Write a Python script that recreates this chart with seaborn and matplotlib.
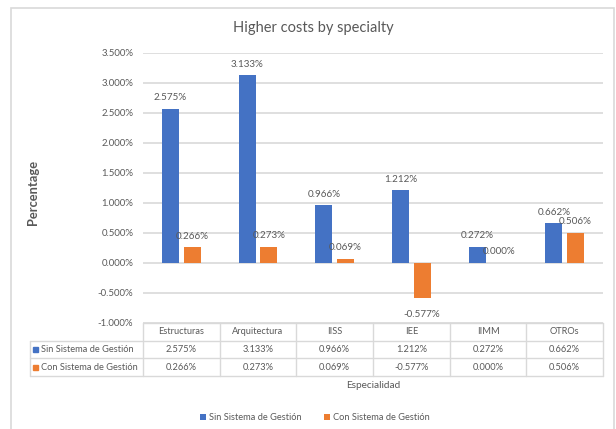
import matplotlib
matplotlib.use("Agg")
import matplotlib.pyplot as plt
from matplotlib.patches import Rectangle
from matplotlib.lines import Line2D
import pandas as pd
import seaborn as sns

# ---- data ----
categories = ["Estructuras", "Arquitectura", "IISS", "IEE", "IIMM", "OTROs"]
series_names = ["Sin Sistema de Gestión", "Con Sistema de Gestión"]
sin_sistema = [2.575, 3.133, 0.966, 1.212, 0.272, 0.662]
con_sistema = [0.266, 0.273, 0.069, -0.577, 0.000, 0.506]
y_ticks = [-1.0, -0.5, 0.0, 0.5, 1.0, 1.5, 2.0, 2.5, 3.0, 3.5]

title = "Higher costs by specialty"
y_label = "Percentage"
x_label = "Especialidad"

BLUE = "#4472C4"
ORANGE = "#ED7D31"
TEXT = "#595959"
GRID = "#D9D9D9"

sns.set_theme(style="white")
plt.rcParams["font.family"] = ["Lato", "DejaVu Sans"]

W, H = 616, 429
fig = plt.figure(figsize=(W / 100, H / 100), dpi=100)


def fx(px):
    return px / W


def fy(py):
    return 1 - py / H


# plot area in pixel coordinates
left, right, top, bottom = 143, 603, 53, 323
ax = fig.add_axes([fx(left), fy(bottom), fx(right) - fx(left), fy(top) - fy(bottom)])

df = pd.DataFrame({
    "Especialidad": categories * 2,
    "Serie": [series_names[0]] * len(categories) + [series_names[1]] * len(categories),
    "Valor": sin_sistema + con_sistema,
})

sns.barplot(data=df, x="Especialidad", y="Valor", hue="Serie", order=categories,
            hue_order=series_names, palette=[BLUE, ORANGE], saturation=1,
            width=0.563, gap=0.21, ax=ax, legend=True, linewidth=0)

ax.set_ylim(y_ticks[0], y_ticks[-1])
ax.set_yticks(y_ticks)
ax.set_yticklabels([f"{v:.3f}%" for v in y_ticks], color=TEXT, fontsize=6.9)
ax.tick_params(axis="y", length=0, pad=7)
ax.set_xticks([])
ax.set_xlabel("")
ax.set_ylabel("")
ax.yaxis.grid(True, color=GRID, linewidth=1.2)
ax.set_axisbelow(True)
for s in ax.spines.values():
    s.set_visible(False)

handles, labels = ax.get_legend_handles_labels()
ax.get_legend().remove()

# value labels on every bar
for container, values in zip(ax.containers, [sin_sistema, con_sistema]):
    for bar, v in zip(container, values):
        xc = bar.get_x() + bar.get_width() / 2
        off = 11 if v >= 0 else -17
        ax.annotate(f"{v:.3f}%", xy=(xc, v), xytext=(0, off), textcoords="offset pixels",
                    ha="center", va="center", fontsize=7.1, color=TEXT)

# title and axis titles
fig.text(fx(313), fy(28), title, ha="center", va="center", fontsize=10.5,
         color=TEXT)
fig.text(fx(33), fy(192), y_label, ha="center", va="center", rotation=90,
         fontsize=9.3, fontweight="bold", color=TEXT)
fig.text(fx(373), fy(386), x_label, ha="center", va="center", fontsize=7.2, color=TEXT)

# data table below the plot
col_w = (right - left) / len(categories)
tbl_left = 30
row_y = [323, 341, 358, 376]
lk = dict(color=GRID, linewidth=1, transform=fig.transFigure)
fig.add_artist(Line2D([fx(left), fx(right)], [fy(row_y[0])] * 2, **lk))
for yy in row_y[1:]:
    fig.add_artist(Line2D([fx(tbl_left), fx(right)], [fy(yy)] * 2, **lk))
fig.add_artist(Line2D([fx(tbl_left)] * 2, [fy(row_y[1]), fy(row_y[3])], **lk))
for i in range(len(categories) + 1):
    xx = left + i * col_w
    fig.add_artist(Line2D([fx(xx)] * 2, [fy(row_y[0]), fy(row_y[3])], **lk))

for i, cat in enumerate(categories):
    xc = left + (i + 0.5) * col_w
    fig.text(fx(xc), fy((row_y[0] + row_y[1]) / 2), cat, ha="center", va="center",
             fontsize=6.7, color=TEXT)
    for r, vals in enumerate([sin_sistema, con_sistema]):
        fig.text(fx(xc), fy((row_y[r + 1] + row_y[r + 2]) / 2), f"{vals[i]:.3f}%",
                 ha="center", va="center", fontsize=6.7, color=TEXT)

for r, (name, col) in enumerate(zip(series_names, [BLUE, ORANGE])):
    yc = (row_y[r + 1] + row_y[r + 2]) / 2
    fig.add_artist(Rectangle((fx(33), fy(yc + 2.5)), 5 / W, 5 / H, color=col,
                             transform=fig.transFigure))
    fig.text(fx(41), fy(yc), name, ha="left", va="center", fontsize=6.7, color=TEXT)

# legend
fig.legend(handles, labels, loc="center", bbox_to_anchor=(fx(315), fy(418)), ncol=2,
           frameon=False, fontsize=6.7, labelcolor=TEXT, handlelength=0.65,
           handleheight=0.65, handletextpad=0.3, columnspacing=2.4)

# chart frame
fig.add_artist(Rectangle((fx(10.5), fy(440)), (614 - 10.5) / W, (440 - 8) / H,
                         fill=False, edgecolor=GRID, linewidth=1.2,
                         transform=fig.transFigure))

fig.savefig("out.png", dpi=100, facecolor="white")
